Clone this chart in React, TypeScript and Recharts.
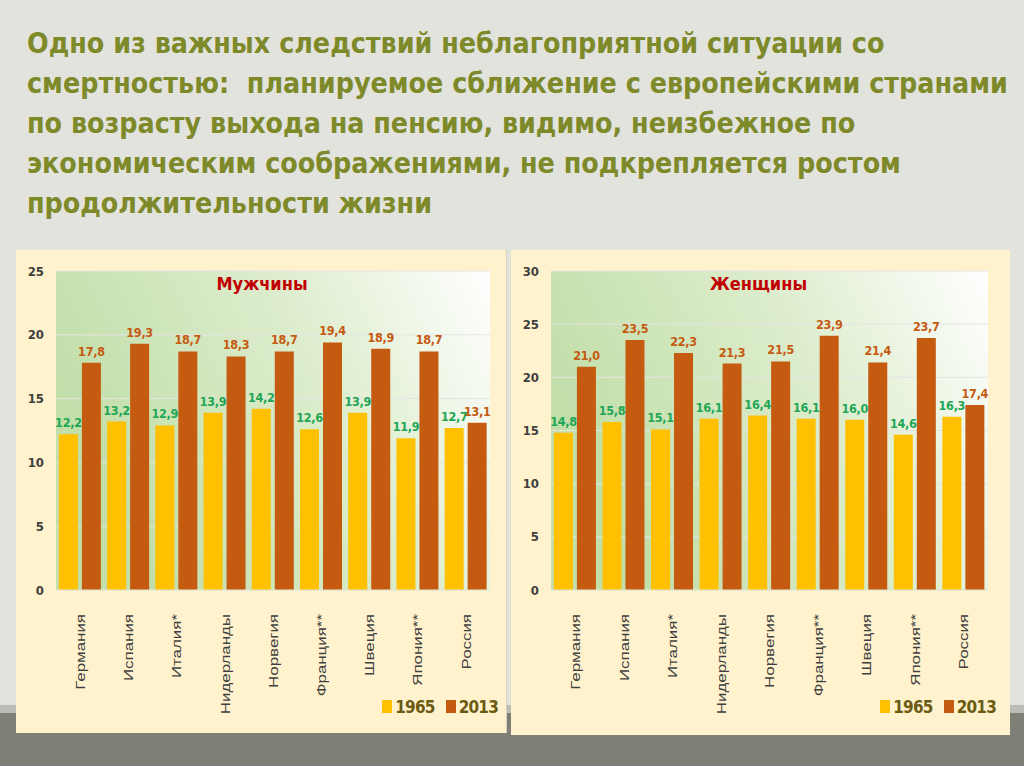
import { BarChart, Bar, XAxis, YAxis, CartesianGrid, Legend, LabelList } from 'recharts';

const countries = ['Германия', 'Испания', 'Италия*', 'Нидерланды', 'Норвегия', 'Франция**', 'Швеция', 'Япония**', 'Россия'];
const men1965 = [12.2, 13.2, 12.9, 13.9, 14.2, 12.6, 13.9, 11.9, 12.7];
const men2013 = [17.8, 19.3, 18.7, 18.3, 18.7, 19.4, 18.9, 18.7, 13.1];
const women1965 = [14.8, 15.8, 15.1, 16.1, 16.4, 16.1, 16.0, 14.6, 16.3];
const women2013 = [21.0, 23.5, 22.3, 21.3, 21.5, 23.9, 21.4, 23.7, 17.4];
const menTicks = [0, 5, 10, 15, 20, 25];
const womenTicks = [0, 5, 10, 15, 20, 25, 30];

const titleLines = [
  'Одно из важных следствий неблагоприятной ситуации со',
  'смертностью:  планируемое сближение с европейскими странами',
  'по возрасту выхода на пенсию, видимо, неизбежное по',
  'экономическим соображениями, не подкрепляется ростом',
  'продолжительности жизни',
];

const FONT = '"DejaVu Sans Condensed", "DejaVu Sans", sans-serif';
const YELLOW = '#FFC000';
const ORANGE = '#C55A11';

const fmt = (v: any) => Number(v).toFixed(1).replace('.', ',');

// rotated country names, stretched along their length like the original slide
function CountryTick({ x, y, payload }: any) {
  return (
    <text
      x={0}
      y={0}
      transform={`translate(${x} ${y + 22}) rotate(-90) scale(1.3 1)`}
      textAnchor="end"
      dominantBaseline="central"
      fontSize={13}
      fontFamily='"Liberation Sans", Arial, sans-serif'
      fill="#404040"
    >
      {payload.value}
    </text>
  );
}

function LegendBox({ payload }: any) {
  return (
    <div style={{ height: 33, display: 'flex', justifyContent: 'flex-end', alignItems: 'center', marginRight: -8 }}>
      {(payload || []).map((p: any) => (
        <span key={p.value} style={{ display: 'flex', alignItems: 'center', marginLeft: 11 }}>
          <span style={{ width: 10, height: 13, background: p.color, marginRight: 3 }} />
          <span style={{ fontFamily: FONT, fontWeight: 700, fontSize: 17, letterSpacing: -0.8, color: '#6B5A12' }}>{p.value}</span>
        </span>
      ))}
    </div>
  );
}

function GenderChart({ id, title, v1965, v2013, ticks, max, width, right }: {
  id: string; title: string; v1965: number[]; v2013: number[]; ticks: number[]; max: number; width: number; right: number;
}) {
  const data = countries.map((c, i) => ({ name: c, y1965: v1965[i], y2013: v2013[i] }));
  const plotCenter = 40 + (width - 40 - right) / 2;
  const labelStyle = { fontFamily: FONT, fontWeight: 700, fontSize: 12.5, letterSpacing: -0.3 };
  return (
    <BarChart width={width} height={483} data={data} margin={{ top: 21, right, left: 0, bottom: 10 }}
      barCategoryGap="6%" barGap={4}>
      <defs>
        <linearGradient id={id} x1="0" y1="0.35" x2="1" y2="0">
          <stop offset="0" stopColor="#C2DEA9" />
          <stop offset="0.55" stopColor="#DDEDCD" />
          <stop offset="1" stopColor="#FFFFFF" />
        </linearGradient>
      </defs>
      <CartesianGrid vertical={false} stroke="#E4E4E4" fill={`url(#${id})`} fillOpacity={1} />
      <XAxis dataKey="name" interval={0} height={100} tickLine={false} tickSize={0}
        axisLine={{ stroke: '#DCE8D0' }} tick={<CountryTick />} />
      <YAxis width={40} domain={[0, max]} ticks={ticks} axisLine={false} tickLine={false} tickMargin={6}
        tick={{ fontSize: 13, fill: '#404040', fontFamily: FONT, fontWeight: 700 }} />
      <Legend verticalAlign="bottom" align="right" content={<LegendBox />} />
      <Bar dataKey="y1965" name="1965" fill={YELLOW} isAnimationActive={false}>
        <LabelList dataKey="y1965" position="top" offset={7} formatter={fmt}
          style={{ ...labelStyle, fill: '#21A655' }} />
      </Bar>
      <Bar dataKey="y2013" name="2013" fill={ORANGE} isAnimationActive={false}>
        <LabelList dataKey="y2013" position="top" offset={7} formatter={fmt}
          style={{ ...labelStyle, fill: ORANGE }} />
      </Bar>
      <text x={plotCenter - 11} y={33} textAnchor="middle" dominantBaseline="central"
        fontFamily={FONT} fontWeight={700} fontSize={18} fill="#C00000">{title}</text>
    </BarChart>
  );
}

export default function App() {
  return (
    <div style={{ position: 'absolute', left: 0, top: 0, width: 1024, height: 766, background: '#E2E3DD', overflow: 'hidden' }}>
      <div style={{ position: 'absolute', left: 0, top: 705, width: 1024, height: 8, background: '#BDBDB7' }} />
      <div style={{ position: 'absolute', left: 0, top: 713, width: 1024, height: 53, background: '#7F7F78' }} />
      <div style={{ position: 'absolute', left: 27, top: 24, fontFamily: FONT, fontWeight: 700, fontSize: 28.3, lineHeight: '40px', color: '#7E8A2A', whiteSpace: 'pre' }}>
        {titleLines.map((l) => <div key={l}>{l}</div>)}
      </div>
      <div style={{ position: 'absolute', left: 16, top: 250, width: 490, height: 483, background: '#FFF2CC', borderRight: '1px solid #D8D2BC' }}>
        <div style={{ position: 'absolute', left: 0, top: 0 }}>
          <GenderChart id="gMen" title="Мужчины" v1965={men1965} v2013={men2013} ticks={menTicks} max={25} width={490} right={16} />
        </div>
      </div>
      <div style={{ position: 'absolute', left: 511, top: 250, width: 499, height: 485, background: '#FFF2CC' }}>
        <div style={{ position: 'absolute', left: 0, top: 0 }}>
          <GenderChart id="gWomen" title="Женщины" v1965={women1965} v2013={women2013} ticks={womenTicks} max={30} width={499} right={22} />
        </div>
      </div>
    </div>
  );
}
